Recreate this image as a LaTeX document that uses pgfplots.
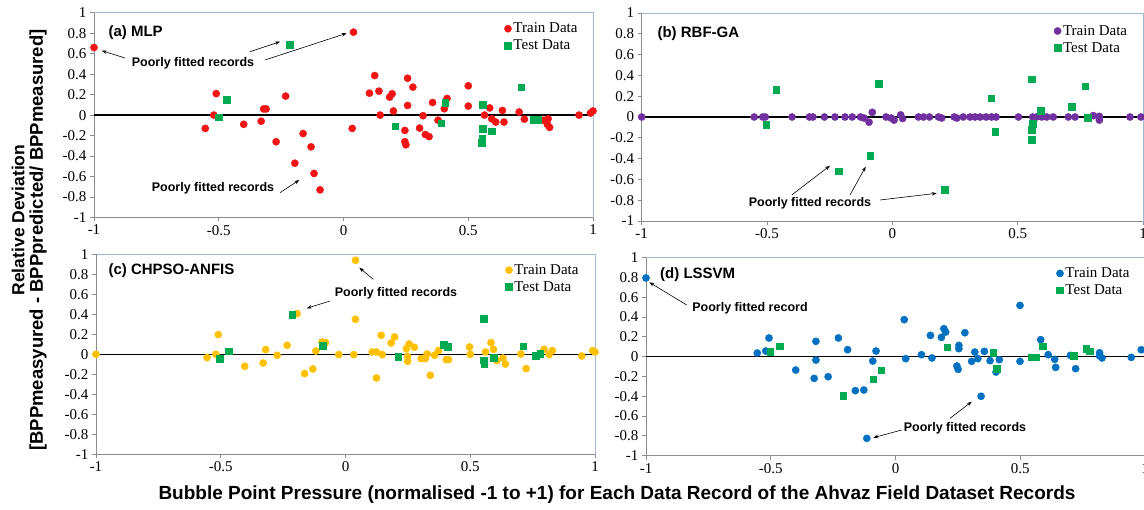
\documentclass[border=0pt]{standalone}
\usepackage{fontspec}
\setmainfont{Liberation Serif}
\setsansfont{Liberation Sans}
\usepackage{pgfplots}
\pgfplotsset{compat=1.18}
\usetikzlibrary{arrows.meta}
\definecolor{trainred}{RGB}{240,20,20}
\definecolor{testgreen}{RGB}{0,170,80}
\definecolor{purp}{RGB}{112,48,160}
\definecolor{gold}{RGB}{255,192,0}
\definecolor{blu}{RGB}{0,112,192}
\definecolor{framecol}{RGB}{160,185,215}
\definecolor{axisgray}{RGB}{140,140,140}
\pgfplotsset{
  panel/.style={
    scale only axis, clip=false,
    xmin=-1, xmax=1, ymin=-1, ymax=1,
    axis line style={draw=framecol, line width=0.9pt},
    xtick={-1,-0.5,0,0.5,1},
    xticklabels={-1,-0.5,0,0.5,1},
    ytick={-1,-0.8,-0.6,-0.4,-0.2,0,0.2,0.4,0.6,0.8,1},
    yticklabels={-1,-0.8,-0.6,-0.4,-0.2,0,0.2,0.4,0.6,0.8,1},
    tick pos=left, tick align=outside,
    major tick length=4pt,
    tick style={draw=axisgray, line width=0.8pt},
    tick label style={font=\fontsize{15}{15}\selectfont},
    legend style={draw=none, fill=none, font=\fontsize{15}{17}\selectfont, anchor=north west, inner sep=0pt, row sep=2.5pt, nodes={inner sep=1.5pt}},
    legend cell align=left,
    legend image code/.code={\path[draw=none, fill=none] (-3.6pt,-3.6pt) rectangle (4pt,3.6pt); \draw[##1] plot coordinates {(0pt,0pt)};},
  },
  train/.style={only marks, mark=*, mark size=3.6pt, color=#1, mark options={draw=#1, fill=#1}},
  test/.style={only marks, mark=square*, mark size=3.3pt, color=testgreen, mark options={draw=testgreen, fill=testgreen}},
  zeroline/.style={black, line width=1.5pt, forget plot},
}
\tikzset{
  ann/.style={font=\sffamily\bfseries\fontsize{12.5}{14}\selectfont},
  plab/.style={font=\sffamily\bfseries\fontsize{15}{17}\selectfont, anchor=west},
  arr/.style={-{Stealth[length=5pt,width=3.5pt]}, line width=0.6pt},
}
\newcommand{\grayaxes}{\draw[axisgray, line width=0.9pt] (rel axis cs:0,1) -- (rel axis cs:0,0) -- (rel axis cs:1,0);}
\begin{document}
\begin{tikzpicture}
\useasboundingbox (0,0) rectangle (1144pt,510pt);
% ---------------- (a) MLP
\begin{axis}[panel, at={(94pt,292.5pt)}, anchor=south west, width=499pt, height=204.8pt,
  legend style={at={(0.822,0.958)}}]
\grayaxes
\addplot[zeroline] coordinates {(-1,0) (1,0)};
\addplot[train=trainred] table {
-1.0 0.66
0.04 0.81
-0.51 0.21
-0.52 0.00
-0.554 -0.13
-0.40 -0.09
-0.33 -0.06
-0.32 0.06
-0.31 0.06
-0.27 -0.26
-0.232 0.185
-0.195 -0.47
-0.162 -0.18
-0.13 -0.31
-0.118 -0.57
-0.094 -0.73
0.035 -0.13
0.125 0.386
0.104 0.214
0.142 0.234
0.147 0.0
0.185 0.175
0.195 0.208
0.20 0.04
0.257 0.36
0.257 0.094
0.278 0.273
0.246 -0.15
0.246 -0.26
0.250 -0.29
0.305 -0.127
0.319 -0.006
0.328 -0.19
0.343 -0.21
0.357 0.123
0.379 -0.05
0.404 0.062
0.415 0.162
0.50 0.286
0.50 0.088
0.565 0.0
0.586 0.07
0.594 -0.036
0.61 -0.068
0.637 0.045
0.643 -0.068
0.704 0.03
0.725 -0.04
0.803 -0.05
0.82 -0.036
0.817 -0.09
0.826 -0.12
0.944 0.0
0.99 0.02
1.0 0.04
};
\addlegendentry{Train Data}
\addplot[test] table {
-0.215 0.685
-0.467 0.15
-0.50 -0.02
0.207 -0.11
0.392 -0.078
0.408 0.123
0.557 0.104
0.557 -0.133
0.556 -0.23
0.553 -0.27
0.593 -0.156
0.713 0.273
0.763 -0.045
0.779 -0.045
};
\addlegendentry{Test Data}
\end{axis}
% ---------------- (b) RBF-GA
\begin{axis}[panel, at={(641.7pt,289pt)}, anchor=south west, width=501.3pt, height=208pt,
  legend style={at={(0.822,0.949)}}]
\grayaxes
\addplot[zeroline] coordinates {(-1,0) (1,0)};
\addplot[train=purp] table {
-1.0 0
-0.551 0
-0.517 0
-0.507 0
-0.40 0
-0.331 0
-0.317 0
-0.271 0
-0.229 0
-0.189 0
-0.16 0
-0.127 0
-0.113 -0.01
-0.093 -0.05
-0.08 0.045
-0.025 0
-0.005 -0.01
0.007 -0.03
0.033 0.02
0.041 -0.015
0.104 0
0.124 0
0.148 0
0.184 0
0.197 -0.01
0.247 0
0.257 -0.01
0.283 0
0.31 0
0.33 0
0.35 0
0.374 0
0.396 0
0.414 0
0.503 0
0.56 0
0.576 0
0.596 0
0.616 0
0.642 0
0.702 0
0.729 0
0.802 0.013
0.826 0.006
0.826 -0.03
0.948 0
0.992 0
};
\addlegendentry{Train Data}
\addplot[test] table {
-0.464 0.263
-0.503 -0.074
-0.213 -0.52
-0.088 -0.372
-0.055 0.32
0.21 -0.70
0.394 0.18
0.41 -0.144
0.556 0.365
0.593 0.06
0.559 -0.067
0.556 -0.12
0.556 -0.218
0.715 0.10
0.769 0.295
0.779 -0.006
};
\addlegendentry{Test Data}
\end{axis}
% ---------------- (c) CHPSO-ANFIS
\begin{axis}[panel, at={(96pt,55.7pt)}, anchor=south west, width=499pt, height=200pt,
  legend style={at={(0.820,0.958)}}]
\grayaxes
\addplot[zeroline] coordinates {(-1,0) (1,0)};
\addplot[train=gold] table {
-1.0 0
-0.555 -0.033
-0.52 0.0
-0.51 0.197
-0.404 -0.12
-0.33 -0.087
-0.32 0.047
-0.274 -0.01
-0.234 0.09
-0.194 0.407
-0.164 -0.193
-0.131 -0.147
-0.119 0.033
-0.094 0.123
-0.08 0.117
-0.027 -0.003
0.033 -0.003
0.04 0.94
0.04 0.35
0.107 0.023
0.124 0.023
0.124 -0.237
0.143 0.19
0.147 -0.003
0.183 0.113
0.197 0.173
0.244 0.057
0.249 -0.07
0.255 0.103
0.276 0.07
0.249 -0.02
0.303 -0.043
0.32 -0.043
0.327 0.003
0.34 -0.21
0.357 -0.01
0.373 0.037
0.404 -0.053
0.413 -0.053
0.497 0.073
0.5 0.0
0.561 0.023
0.583 0.117
0.593 0.05
0.607 -0.063
0.631 -0.037
0.641 -0.097
0.703 0.003
0.724 -0.143
0.796 0.05
0.816 -0.003
0.829 0.037
0.947 -0.017
0.991 0.037
1.0 0.023
};
\addlegendentry{Train Data}
\addplot[test] table {
-0.214 0.397
-0.468 0.03
-0.504 -0.043
-0.092 0.083
0.211 -0.027
0.393 0.097
0.409 0.073
0.553 0.357
0.553 -0.06
0.556 -0.093
0.593 -0.033
0.713 0.08
0.763 -0.017
0.78 0.003
};
\addlegendentry{Test Data}
\end{axis}
% ---------------- (d) LSSVM
\begin{axis}[panel, at={(646pt,54.3pt)}, anchor=south west, width=499pt, height=198pt,
  legend style={at={(0.822,0.958)}}]
\grayaxes
\addplot[zeroline] coordinates {(-1,0) (1,0)};
\addplot[train=blu] table {
-1.0 0.795
-0.554 0.037
-0.52 0.057
-0.507 0.189
-0.40 -0.135
-0.319 0.155
-0.319 -0.034
-0.326 -0.219
-0.27 -0.202
-0.229 0.189
-0.192 0.071
-0.161 -0.343
-0.127 -0.337
-0.115 -0.825
-0.091 -0.044
-0.078 0.057
0.041 -0.02
0.035 0.374
0.104 0.02
0.14 0.215
0.146 -0.013
0.184 0.195
0.194 0.283
0.201 0.249
0.254 0.114
0.254 0.081
0.246 -0.094
0.251 -0.128
0.278 0.242
0.305 -0.047
0.318 0.047
0.33 -0.02
0.343 -0.40
0.356 0.054
0.379 -0.04
0.403 -0.155
0.416 -0.03
0.499 0.518
0.499 -0.047
0.582 0.172
0.612 0.02
0.638 -0.027
0.642 -0.108
0.701 0.013
0.722 -0.121
0.818 0.04
0.818 0.007
0.828 -0.013
0.945 -0.007
0.985 0.07
};
\addlegendentry{Train Data}
\addplot[test] table {
-0.503 0.05
-0.465 0.104
-0.209 -0.394
-0.09 -0.229
-0.058 -0.135
0.207 0.094
0.392 0.04
0.406 -0.121
0.547 -0.007
0.562 -0.007
0.589 0.108
0.713 0.007
0.765 0.081
0.779 0.054
};
\addlegendentry{Test Data}
\end{axis}
% ---------------- panel labels
\node[plab] at (105pt,477pt) {(a) MLP};
\node[plab] at (654pt,476.7pt) {(b) RBF-GA};
\node[plab] at (105pt,239pt) {(c) CHPSO-ANFIS};
\node[plab] at (656.7pt,235pt) {(d) LSSVM};
% ---------------- annotations
\node[ann] at (193pt,447pt) {Poorly fitted records};
\draw[arr] (125pt,452pt) -- (101.7pt,459.3pt);
\draw[arr] (250pt,458.3pt) -- (280pt,468.3pt);
\draw[arr] (265pt,450pt) -- (346.7pt,476.7pt);
\node[ann] at (213pt,322pt) {Poorly fitted records};
\draw[arr] (280pt,317.3pt) -- (299.3pt,330pt);
\node[ann] at (810pt,307pt) {Poorly fitted records};
\draw[arr] (791.7pt,315pt) -- (830pt,344.3pt);
\draw[arr] (850pt,315pt) -- (865.7pt,343.3pt);
\draw[arr] (880pt,310pt) -- (936.7pt,316.7pt);
\node[ann] at (396pt,217pt) {Poorly fitted records};
\draw[arr] (373.3pt,230.7pt) -- (359.3pt,242.3pt);
\draw[arr] (330pt,209pt) -- (306.7pt,201.7pt);
\node[ann] at (750pt,202pt) {Poorly fitted record};
\draw[arr] (686.7pt,205pt) -- (649.3pt,227.7pt);
\node[ann] at (965pt,82pt) {Poorly fitted records};
\draw[arr] (901.7pt,80pt) -- (873.3pt,72.3pt);
\draw[arr] (950pt,91.7pt) -- (971.7pt,108.3pt);
% ---------------- global labels
\node[font=\sffamily\bfseries\fontsize{17.5}{20}\selectfont, rotate=90] at (18pt,290pt) {Relative Deviation};
\node[font=\sffamily\bfseries\fontsize{18.5}{20}\selectfont, rotate=90] at (38pt,270pt) {[BPPmeasyured - BPPpredicted/ BPPmeasured]};
\node[font=\sffamily\bfseries\fontsize{19}{22}\selectfont] at (617pt,15pt) {Bubble Point Pressure (normalised -1 to +1) for Each Data Record of the Ahvaz Field Dataset Records};
\end{tikzpicture}
\end{document}
